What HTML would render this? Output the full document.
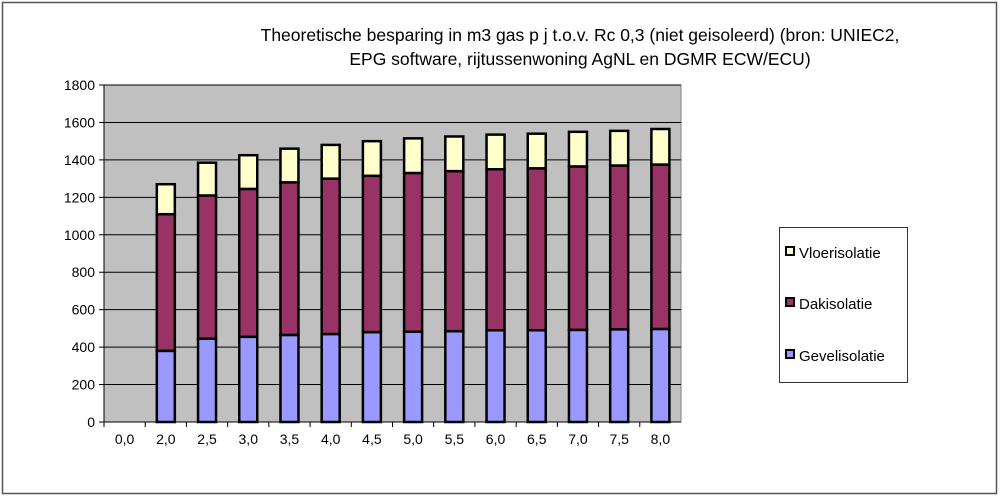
<!DOCTYPE html>
<html><head><meta charset="utf-8"><style>
html,body{margin:0;padding:0;background:#fff;}
svg{display:block;font-family:"Liberation Sans",Arial,sans-serif;}
</style></head><body>
<svg id="chart" width="1000" height="500" viewBox="0 0 1000 500" xmlns="http://www.w3.org/2000/svg">
<rect x="2.5" y="2.5" width="994" height="491" fill="#fff" stroke="#555" stroke-width="1.5"/>
<text font-size="17.5" fill="#000" text-anchor="middle"><tspan x="580" y="41">Theoretische besparing in m3 gas p j t.o.v. Rc 0,3 (niet geisoleerd) (bron: UNIEC2,</tspan><tspan x="580" y="65">EPG software, rijtussenwoning AgNL en DGMR ECW/ECU)</tspan></text>
<rect x="104" y="85" width="577" height="337" fill="#c0c0c0" stroke="#808080" stroke-width="1"/>
<g id="grid"></g><g id="bars"></g><g id="axes"></g>
<g>
<rect x="779.5" y="227.5" width="128" height="155" fill="#fff" stroke="#333" stroke-width="1"/>
<rect x="786" y="247" width="8" height="8" fill="#ffffcc" stroke="#000" stroke-width="2"/>
<text x="799" y="258" font-size="15">Vloerisolatie</text>
<rect x="786" y="298" width="8" height="8" fill="#993366" stroke="#000" stroke-width="2"/>
<text x="799" y="309" font-size="15">Dakisolatie</text>
<rect x="786" y="350" width="8" height="8" fill="#9999ff" stroke="#000" stroke-width="2"/>
<text x="799" y="361" font-size="15">Gevelisolatie</text>
</g>
</svg>
<script>
const categories = ["0,0","2,0","2,5","3,0","3,5","4,0","4,5","5,0","5,5","6,0","6,5","7,0","7,5","8,0"];
const gevel = [0,380,445,455,465,470,480,482,485,490,490,492,495,497];
const dak = [0,730,765,790,815,830,835,848,855,860,865,873,875,878];
const vloer = [0,160,175,180,180,180,185,185,185,185,185,185,185,190];
const yTicks = [0,200,400,600,800,1000,1200,1400,1600,1800];
const NS="http://www.w3.org/2000/svg";
const X0=104,X1=681,Y0=422,Y1=85,YMAX=1800;
const y=v=>Y0-(v/YMAX)*(Y0-Y1);
const band=(X1-X0)/categories.length;
const xc=i=>X0+band*(i+0.5);
function mk(tag,attrs,parent){const e=document.createElementNS(NS,tag);for(const k in attrs)e.setAttribute(k,attrs[k]);parent.appendChild(e);return e;}
const grid=document.getElementById('grid'),bars=document.getElementById('bars'),axes=document.getElementById('axes');
yTicks.forEach(t=>{
  if(t>0){const g=mk('line',{x1:X0,x2:X1,y1:y(t),y2:y(t),stroke:'#000','stroke-width':1},grid);
  
  }
  const tk=mk('line',{x1:X0-5,x2:X0,y1:y(t),y2:y(t),stroke:'#000'},axes);
  
  
  const tx=mk('text',{x:X0-9,y:y(t)+5,'font-size':14,'text-anchor':'end'},axes);
  tx.textContent=t;
  
  
});
mk('line',{x1:X0,x2:X0,y1:Y1,y2:Y0,stroke:'#000'},axes);
mk('line',{x1:X0,x2:X1,y1:Y0,y2:Y0,stroke:'#000'},axes);
const bw=18;
categories.forEach((c,i)=>{
  const tk=mk('line',{x1:X0+band*i,x2:X0+band*i,y1:Y0,y2:Y0+5,stroke:'#000'},axes);
  
  
  const tx=mk('text',{x:xc(i),y:Y0+22,'font-size':14,'text-anchor':'middle'},axes);
  tx.textContent=c;
  
  
  let base=0;
  [[gevel,'#9999ff','bar-gevel'],[dak,'#993366','bar-dak'],[vloer,'#ffffcc','bar-vloer']].forEach(([arr,col,name])=>{
    const v=arr[i]; if(v<=0){return;}
    const r=mk('rect',{x:xc(i)-bw/2,y:y(base+v),width:bw,height:y(base)-y(base+v),fill:col,stroke:'#000','stroke-width':2.5},bars);
    
    
    base+=v;
  });
});
</script>
</body></html>
